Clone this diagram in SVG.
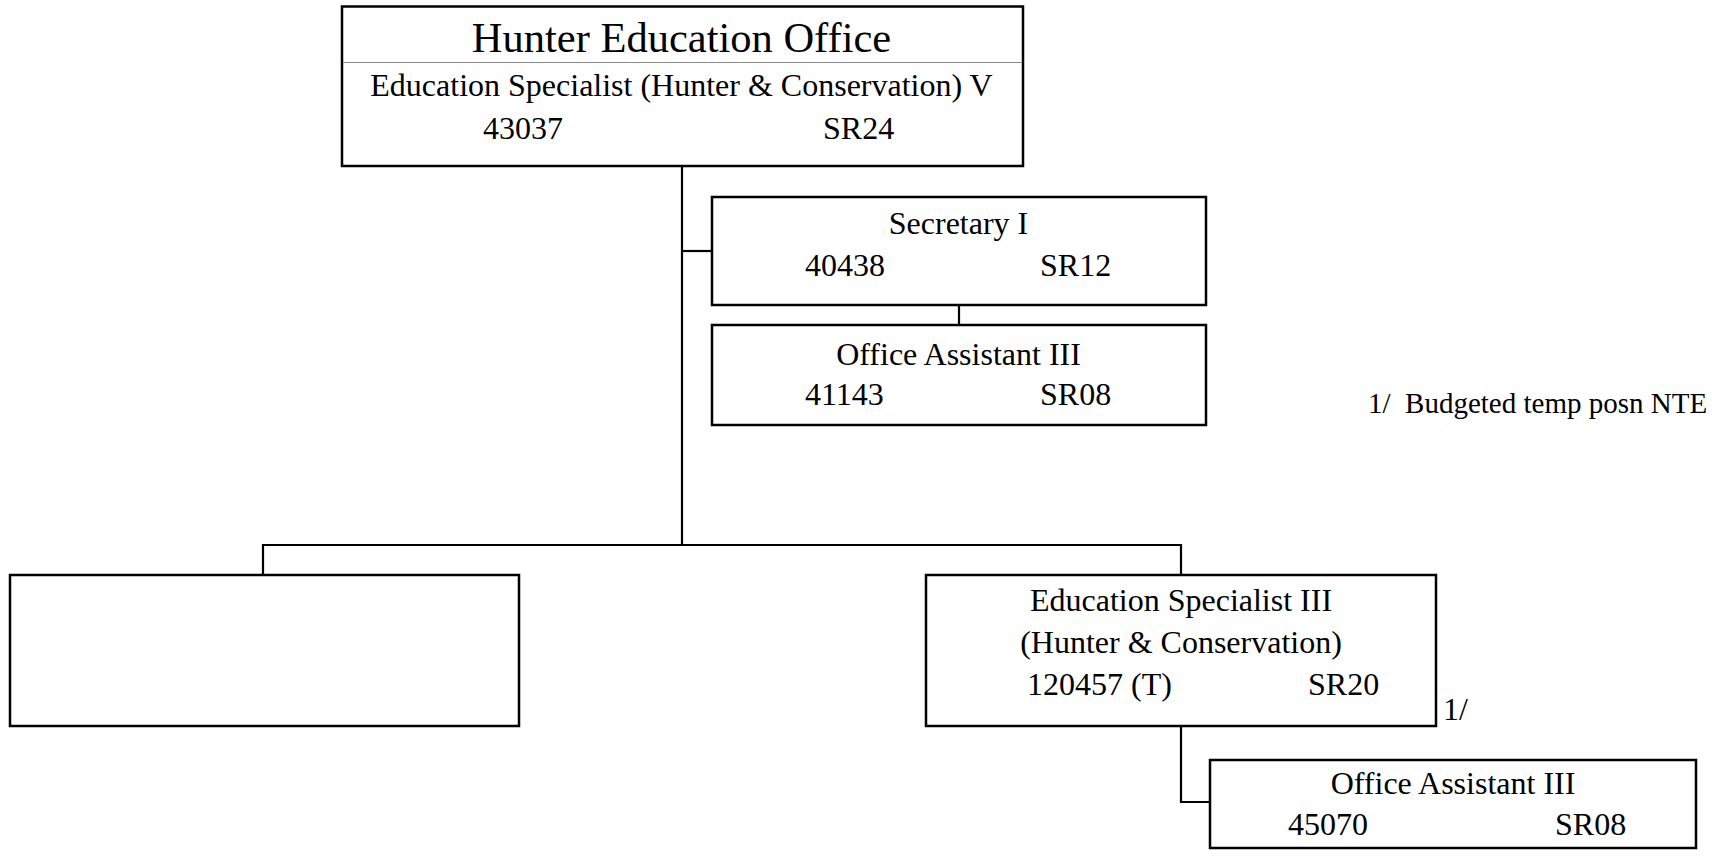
<svg xmlns="http://www.w3.org/2000/svg" width="1712" height="857" viewBox="0 0 1712 857">
<style>
.box{fill:#fff;stroke:#000;stroke-width:2.5}
.t{font-family:"Liberation Serif","Times New Roman",serif;font-size:32px;fill:#000}
.c{text-anchor:middle}
.big{font-size:42.5px}
.note{font-size:29px}
.line{fill:none;stroke:#000;stroke-width:2.2}
</style>
<rect width="1712" height="857" fill="#fff"/>
<g id="connectors">
<path class="line" d="M682 166 V545"/>
<path class="line" d="M682 251 H712"/>
<path class="line" d="M959 305 V325"/>
<path class="line" d="M263 575 V545 H1181 V575"/>
<path class="line" d="M1181 726 V802 H1210"/>
</g>
<g id="hunter-education-office">
<rect class="box" x="342" y="6.5" width="681" height="159.5"/>
<line x1="343" y1="62.5" x2="1022" y2="62.5" stroke="#888" stroke-width="1"/>
<text class="t big c" x="681.5" y="51.5">Hunter Education Office</text>
<text class="t c" x="681.5" y="95.5">Education Specialist (Hunter &amp; Conservation) V</text>
<text class="t" x="483" y="139">43037</text>
<text class="t" x="823" y="139">SR24</text>
</g>
<g id="secretary">
<rect class="box" x="712" y="197" width="494" height="108"/>
<text class="t c" x="958.5" y="234">Secretary I</text>
<text class="t" x="805" y="276">40438</text>
<text class="t" x="1040" y="276">SR12</text>
</g>
<g id="office-assistant-1">
<rect class="box" x="712" y="325" width="494" height="100"/>
<text class="t c" x="958.5" y="365">Office Assistant III</text>
<text class="t" x="805" y="405">41143</text>
<text class="t" x="1040" y="405">SR08</text>
</g>
<g id="note">
<text class="t note" x="1368" y="413" xml:space="preserve">1/  Budgeted temp posn NTE</text>
</g>
<g id="vacant">
<rect class="box" x="10" y="575" width="509" height="151"/>
</g>
<g id="education-specialist-3">
<rect class="box" x="926" y="575" width="510" height="151"/>
<text class="t c" x="1181" y="611">Education Specialist III</text>
<text class="t c" x="1181" y="653">(Hunter &amp; Conservation)</text>
<text class="t" x="1027" y="695">120457 (T)</text>
<text class="t" x="1308" y="695">SR20</text>
<text class="t" x="1443" y="720">1/</text>
</g>
<g id="office-assistant-2">
<rect class="box" x="1210" y="760" width="486" height="88"/>
<text class="t c" x="1453" y="794">Office Assistant III</text>
<text class="t" x="1288" y="835">45070</text>
<text class="t" x="1555" y="835">SR08</text>
</g>
</svg>
